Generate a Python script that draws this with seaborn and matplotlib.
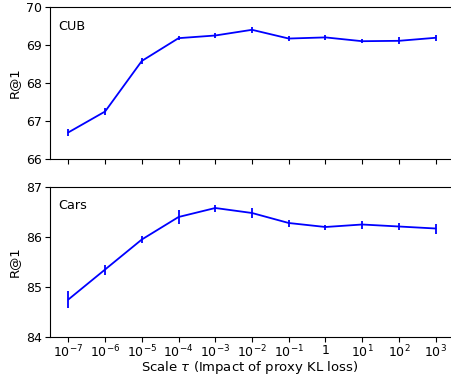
import matplotlib
matplotlib.use("Agg")
import matplotlib.pyplot as plt
import seaborn as sns
import numpy as np
import pandas as pd

tick_labels = [r"$10^{-7}$", r"$10^{-6}$", r"$10^{-5}$", r"$10^{-4}$", r"$10^{-3}$",
               r"$10^{-2}$", r"$10^{-1}$", "1", r"$10^{1}$", r"$10^{2}$", r"$10^{3}$"]
cub_vals = [66.70, 67.25, 68.58, 69.18, 69.25, 69.40, 69.17, 69.20, 69.10, 69.11, 69.19]
cub_err = [0.10, 0.08, 0.08, 0.06, 0.06, 0.08, 0.07, 0.06, 0.05, 0.09, 0.08]
cars_vals = [84.75, 85.35, 85.95, 86.40, 86.58, 86.48, 86.28, 86.20, 86.25, 86.21, 86.17]
cars_err = [0.17, 0.10, 0.07, 0.14, 0.07, 0.10, 0.07, 0.05, 0.08, 0.07, 0.10]

sns.set_style("ticks")
plt.rcParams['font.family'] = ['DejaVu Sans']
plt.rcParams['text.color'] = 'black'
plt.rcParams['axes.labelcolor'] = 'black'
plt.rcParams['xtick.color'] = 'black'
plt.rcParams['ytick.color'] = 'black'

fig = plt.figure(figsize=(4.52, 3.78), dpi=100)
ax1 = fig.add_axes([50/452, 1-159/378, 404/452, 152/378])
ax2 = fig.add_axes([50/452, 1-337/378, 404/452, 150/378])

x = np.arange(len(tick_labels))
for ax, vals, err, name, ylim, yticks in [
    (ax1, cub_vals, cub_err, "CUB", (66, 70), [66, 67, 68, 69, 70]),
    (ax2, cars_vals, cars_err, "Cars", (84, 87), [84, 85, 86, 87]),
]:
    df = pd.DataFrame({"x": x, "y": vals})
    sns.lineplot(data=df, x="x", y="y", ax=ax, color="blue", linewidth=1.3)
    ax.errorbar(x, vals, yerr=err, fmt="none", ecolor="blue", elinewidth=1.3, capsize=0)
    ax.set_xlim(-0.5, 10.5)
    ax.set_ylim(*ylim)
    ax.set_yticks(yticks)
    ax.set_xticks(x)
    ax.set_ylabel("R@1", fontsize=9.5)
    ax.yaxis.set_label_coords(-29/404, 0.5)
    ax.text(0.02, 0.875, name, transform=ax.transAxes, ha="left", va="center", fontsize=9.2)
    for s in ax.spines.values():
        s.set_color("black")
        s.set_linewidth(0.8)
    ax.tick_params(axis="both", labelsize=9, length=3.5, width=0.8, color="black",
                   labelcolor="black", pad=2.5)

ax1.set_xticklabels([])
ax1.set_xlabel("")
ax2.set_xticklabels(tick_labels)
ax2.tick_params(axis="x", pad=1.5)
ax2.set_xlabel(r"Scale $\tau$ (Impact of proxy KL loss)", fontsize=9.5)
ax2.xaxis.label.set_va("center")
ax2.xaxis.set_label_coords((250-50)/404, -(368-337)/150)

fig.savefig("out.png", dpi=100)
